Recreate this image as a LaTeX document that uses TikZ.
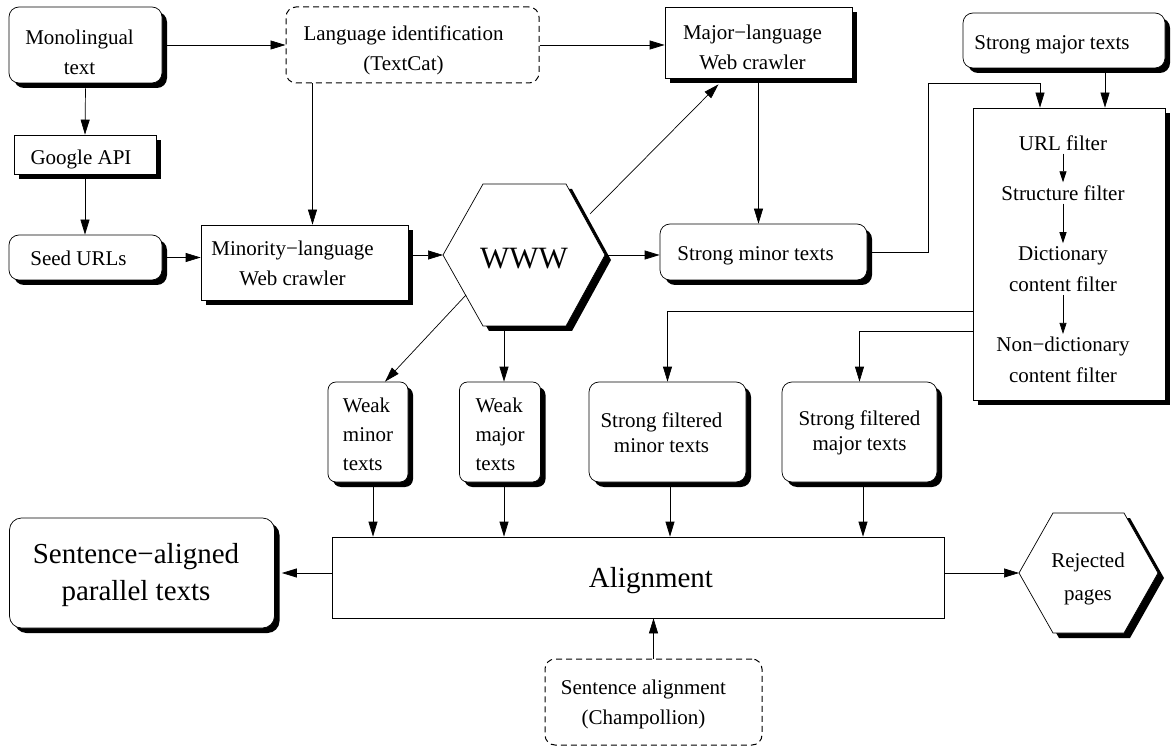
\documentclass[tikz,border=0pt]{standalone}
\usepackage{fontspec}
\setmainfont{Liberation Serif}
\usetikzlibrary{arrows.meta,shadows,calc}
\begin{document}
\begin{tikzpicture}[x=1pt,y=-1pt,
  base/.style={draw=black,line width=0.7pt,fill=white,inner sep=2pt},
  shad/.style={drop shadow={shadow xshift=5pt,shadow yshift=-5pt,fill=black,opacity=1}},
  rbox/.style={base,shad,rounded corners=10pt},
  sbox/.style={base,shad},
  dbox/.style={base,line width=1pt,rounded corners=10pt,dash pattern=on 6pt off 4pt},
  txt/.style={align=center,inner sep=0pt,font=\fontsize{21}{30}\selectfont},
  conn/.style={line width=0.7pt,-{Triangle[length=15pt,width=9pt]}},
  small/.style={line width=0.7pt,-{Triangle[length=11pt,width=7pt]},shorten <=3pt,shorten >=3pt},
  ftxt/.style={inner sep=0pt,align=center,font=\fontsize{21}{31}\selectfont},
  hex/.style={draw=black,line width=0.7pt,fill=white},
]
\useasboundingbox (0,0) rectangle (1171,746);

% boxes
\node[rbox,minimum width=153pt,minimum height=76pt,
  label={[txt,xshift=-6pt,yshift=-7pt]center:{Monolingual\\text}}] (mono) at (85.5,45) {};
\node[dbox,minimum width=253pt,minimum height=76pt,
  label={[txt,xshift=-9pt,yshift=-5pt]center:{Language identification\\(TextCat)}}] (langid) at (412.5,45) {};
\node[sbox,minimum width=187pt,minimum height=71pt,
  label={[txt,xshift=-6pt,yshift=-5pt]center:{Major−language\\Web crawler}}] (major) at (758.5,42.5) {};
\node[rbox,minimum width=202pt,minimum height=55pt,
  label={[txt,xshift=-12pt,yshift=-4pt]center:{Strong major texts}}] (strongmaj) at (1064,40.5) {};
\node[sbox,minimum width=142pt,minimum height=39pt,
  label={[txt,xshift=-4pt,yshift=-5pt]center:{Google API}}] (google) at (85,154.5) {};
\node[rbox,minimum width=153pt,minimum height=45pt,
  label={[txt,xshift=-7pt,yshift=-1pt]center:{Seed URLs}}] (seed) at (85.5,257.5) {};
\node[sbox,minimum width=207pt,minimum height=75pt,
  label={[txt,xshift=-12pt,yshift=-1pt]center:{Minority−language\\Web crawler}}] (minority) at (304.5,262.5) {};
\node[rbox,minimum width=207pt,minimum height=56pt,
  label={[txt,xshift=-8pt,yshift=-4pt]center:{Strong minor texts}}] (strongmin) at (763.5,252) {};
\node[sbox,minimum width=192pt,minimum height=292pt] (filter) at (1069,254) {};
\node[ftxt] (url) at (1063,143) {URL filter};
\node[ftxt] (struct) at (1063,193) {Structure filter};
\node[ftxt] (dict) at (1063,269) {Dictionary\\content filter};
\node[ftxt] (nondict) at (1063,360) {Non−dictionary\\content filter};

\node[rbox,rounded corners=8pt,minimum width=80pt,minimum height=100pt,
  label={[txt,align=left,font=\fontsize{21}{29}\selectfont,yshift=-2pt]center:{Weak\\minor\\texts}}] (weakmin) at (368,432) {};
\node[rbox,rounded corners=8pt,minimum width=81pt,minimum height=100pt,
  label={[txt,align=left,font=\fontsize{21}{29}\selectfont,yshift=-2pt]center:{Weak\\major\\texts}}] (weakmaj) at (500,432) {};
\node[rbox,minimum width=157pt,minimum height=100pt,
  label={[txt,font=\fontsize{21}{25}\selectfont,xshift=-6pt,yshift=-1pt]center:{Strong filtered\\minor texts}}] (sfmin) at (667.5,432) {};
\node[rbox,minimum width=155pt,minimum height=100pt,
  label={[txt,font=\fontsize{21}{25}\selectfont,yshift=-1pt]center:{Strong filtered\\major texts}}] (sfmaj) at (859.5,432) {};
\node[base,minimum width=612pt,minimum height=81pt,
  label={[txt,font=\fontsize{29}{35}\selectfont,xshift=13pt,yshift=-3pt]center:{Alignment}}] (align) at (638,577.5) {};
\node[rbox,rounded corners=12pt,minimum width=265pt,minimum height=110pt,
  label={[txt,font=\fontsize{29}{37}\selectfont,xshift=-6pt,yshift=-2pt]center:{Sentence−aligned\\parallel texts}}] (sent) at (142,573) {};
\node[dbox,minimum width=217pt,minimum height=86pt,
  label={[txt,xshift=-10pt,yshift=-2pt]center:{Sentence alignment\\(Champollion)}}] (champ) at (653.5,702) {};

% WWW hexagon
\coordinate (wL) at (443,255);
\coordinate (wTL) at (483,184);
\coordinate (wTR) at (566,184);
\coordinate (wR) at (605,255);
\coordinate (wBR) at (566,326);
\coordinate (wBL) at (483,326);
\coordinate (wM) at (590,214);
\coordinate (wBLm) at (466,295);
\coordinate (wB) at (504,331);
\fill[black,shift={(6,5)}] (443,255) -- (483,184) -- (566,184) -- (605,255) -- (566,326) -- (483,326) -- cycle;
\draw[hex] (wL) -- (wTL) -- (wTR) -- (wR) -- (wBR) -- (wBL) -- cycle;
\node[font=\fontsize{31}{31}\selectfont] (www) at (524,259) {WWW};

% Rejected hexagon
\coordinate (rL) at (1019,573);
\coordinate (rTL) at (1053,513);
\coordinate (rTR) at (1124,513);
\coordinate (rR) at (1158,573);
\coordinate (rBR) at (1124,633);
\coordinate (rBL) at (1053,633);
\fill[black,shift={(6,5)}] (1019,573) -- (1053,513) -- (1124,513) -- (1158,573) -- (1124,633) -- (1053,633) -- cycle;
\draw[hex] (rL) -- (rTL) -- (rTR) -- (rR) -- (rBR) -- (rBL) -- cycle;
\node[align=center,font=\fontsize{21}{33}\selectfont] (rej) at (1088,579) {Rejected\\pages};

% connectors
\draw[conn] ([xshift=4pt]mono.east) -- (mono.east -| langid.west);
\draw[conn] (langid.east) -- (langid.east -| major.west);
\draw[conn] ([yshift=-5pt]mono.south) -- (google.north);
\draw[conn] ([yshift=-5pt]google.south) coordinate (t) -- (t |- seed.north);
\draw[conn] ([xshift=5pt]seed.east) -- (seed.east -| minority.west);
\draw[conn] ([xshift=-100pt]langid.south) coordinate (t) -- (t |- minority.north);
\draw[conn] ($(minority.east |- wL)+(5,0)$) -- (wL);
\draw[conn] (wR) -- (wR -| strongmin.west);
\draw[conn] (wM) -- ([xshift=-40pt,yshift=-6pt]major.south);
\draw[conn] ([yshift=-5pt]major.south) coordinate (t) -- (t |- strongmin.north);
\draw[conn] ([xshift=5pt]strongmin.east) -- ++(56,0) |- ([xshift=-29pt,yshift=24pt]filter.north) -- ([xshift=-29pt]filter.north);
\draw[conn] ([xshift=41pt,yshift=-5pt]strongmaj.south) coordinate (t) -- (t |- filter.north);
\draw[small] (url) -- (struct);
\draw[small] (struct) -- (dict);
\draw[small] (dict) -- (nondict);
\draw[conn] ([yshift=-57pt]filter.west) -| (sfmin.north);
\draw[conn] ([yshift=-77pt]filter.west) -| (sfmaj.north);
\draw[conn] (wBLm) -- ([xshift=17pt]weakmin.north);
\draw[conn] (wB) -- (wB |- weakmaj.north);
\draw[conn] ([xshift=5pt,yshift=-5pt]weakmin.south) coordinate (t) -- (t |- align.north);
\draw[conn] ([xshift=4pt,yshift=-5pt]weakmaj.south) coordinate (t) -- (t |- align.north);
\draw[conn] ([xshift=2.5pt,yshift=-5pt]sfmin.south) coordinate (t) -- (t |- align.north);
\draw[conn] ([xshift=3.5pt,yshift=-5pt]sfmaj.south) coordinate (t) -- (t |- align.north);
\draw[conn] (align.west |- sent.east) -- ([xshift=7pt]sent.east);
\draw[conn] (align.east |- rL) -- (rL);
\draw[conn] (champ.north) -- (champ.north |- align.south);
\end{tikzpicture}
\end{document}
